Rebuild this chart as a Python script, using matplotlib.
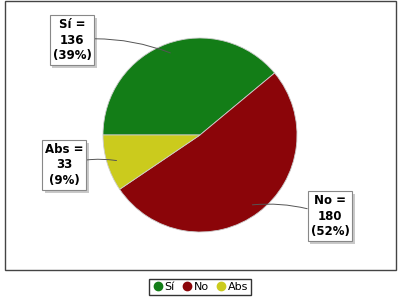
import numpy as np
import matplotlib
matplotlib.use("Agg")
import matplotlib.pyplot as plt
import matplotlib.patheffects as pe
from matplotlib.patches import Rectangle
from matplotlib.lines import Line2D

labels = ["Sí", "No", "Abs"]
values = [136, 180, 33]
colors = ["#137d17", "#8b0509", "#cbcb1d"]
# where each label box sits, in pixels (x, y from top)
label_pos = [(72, 40), (330, 216), (64, 165)]

W, H = 400, 300
fig = plt.figure(figsize=(4, 3), dpi=100)
ax = fig.add_axes([0, 0, 1, 1])

# plot frame
ax.add_patch(Rectangle((5, H - 270), 391, 269, fill=False, edgecolor="#444444", linewidth=1))

cx, cy, R = 200, H - 135, 97
wedges, _ = ax.pie(values, colors=colors, startangle=180, counterclock=False,
                   center=(cx, cy), radius=R, frame=True,
                   wedgeprops=dict(edgecolor="#cccccc", linewidth=0.6))
ax.set_xlim(0, W)
ax.set_ylim(0, H)
ax.set_aspect("equal")
ax.axis("off")

total = sum(values)
for w, lab, v, (lx, ly) in zip(wedges, labels, values, label_pos):
    mid = np.deg2rad((w.theta1 + w.theta2) / 2)
    px, py = cx + 0.9 * R * np.cos(mid), cy + 0.9 * R * np.sin(mid)
    pct = round(100 * v / total)
    rad = -0.12 if lx < cx else 0.12
    ax.annotate(f"{lab} =\n{v}\n({pct}%)", xy=(px, py), xytext=(lx, H - ly),
                ha="center", va="center", multialignment="center",
                fontsize=8.5, fontweight="bold", color="black", linespacing=1.25,
                bbox=dict(boxstyle="square,pad=0.25", facecolor="white", edgecolor="#888888",
                          linewidth=0.8,
                          path_effects=[pe.SimplePatchShadow(offset=(2, -2), alpha=0.3), pe.Normal()]),
                arrowprops=dict(arrowstyle="-", color="#555555", linewidth=0.7,
                                connectionstyle=f"arc3,rad={rad}", shrinkA=0, shrinkB=0))

handles = [Line2D([], [], marker="o", linestyle="", markersize=6, markerfacecolor=c,
                  markeredgecolor=c) for c in colors]
leg = fig.legend(handles, labels, loc="center", bbox_to_anchor=(200 / W, 1 - 287 / H),
                 ncol=3, fontsize=8, frameon=True, fancybox=False, handletextpad=0.1,
                 columnspacing=0.6, borderpad=0.3, handlelength=1.0)
leg.get_frame().set_edgecolor("black")
leg.get_frame().set_linewidth(1.0)

fig.savefig("out.png", dpi=100)
